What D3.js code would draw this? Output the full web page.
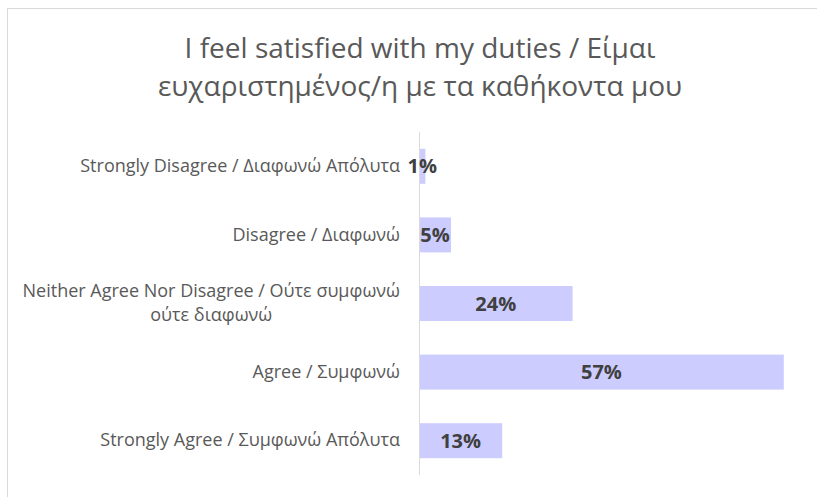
<!DOCTYPE html>
<html lang="en">
<head>
<meta charset="utf-8">
<title>I feel satisfied with my duties</title>
<script src="https://cdn.jsdelivr.net/npm/d3@7/dist/d3.min.js"></script>
<style>
    body { margin: 0; background: #fff; }
    svg { font-family: "Open Sans", "Noto Sans", sans-serif; }
    .axis path { stroke: #d9d9d9; }
    .axis text { fill: #595959; font-size: 18px; font-family: "Open Sans", "Noto Sans", sans-serif; }
</style>
</head>
<body>
<script>
// Data
var categories = [
    "Strongly Disagree / Διαφωνώ Απόλυτα",
    "Disagree / Διαφωνώ",
    "Neither Agree Nor Disagree / Ούτε συμφωνώ ούτε διαφωνώ",
    "Agree / Συμφωνώ",
    "Strongly Agree / Συμφωνώ Απόλυτα"
];
var values = [0.01, 0.05, 0.24, 0.57, 0.13];
var titleLines = ["I feel satisfied with my duties / Είμαι", "ευχαριστημένος/η με τα καθήκοντα μου"];

var outer_width = 817, outer_height = 497;
var margin = { top: 132, right: 14, bottom: 22, left: 419 };
var w = outer_width - margin.left - margin.right;
var h = outer_height - margin.top - margin.bottom;

var root = d3.select("body").append("svg")
    .attr("width", outer_width)
    .attr("height", outer_height);

// chart frame
root.append("rect")
    .attr("x", 7.5).attr("y", 8.5)
    .attr("width", 830).attr("height", 510)
    .attr("fill", "none")
    .attr("stroke", "#d9d9d9");

// title
root.append("text")
    .attr("text-anchor", "middle")
    .attr("fill", "#595959")
    .attr("font-size", "28px")
    .selectAll("tspan")
    .data(titleLines)
    .enter()
    .append("tspan")
    .attr("x", 420)
    .attr("y", function(d, i) { return 58 + i * 38; })
    .text(function(d) { return d; });

var svg = root.append("g")
    .attr("transform", "translate(" + margin.left + "," + margin.top + ")");

var xScale = d3.scaleLinear().domain([0, 0.6]).range([0, w]);
var yScale = d3.scaleBand().domain(categories).range([0, h]).paddingInner(0.49).paddingOuter(0.245);

svg.selectAll("rect.bar")
    .data(values)
    .enter()
    .append("rect")
    .attr("class", "bar")
    .attr("x", 0)
    .attr("y", function(d, i) { return yScale(categories[i]); })
    .attr("width", function(d) { return xScale(d); })
    .attr("height", yScale.bandwidth())
    .attr("fill", "#ccccff");

var yAxis = d3.axisLeft(yScale).tickSize(0).tickPadding(19);
var gy = svg.append("g").attr("class", "axis").call(yAxis);
gy.select(".domain").attr("d", "M0.5,0V" + h);

// wrap long labels, lines centred on each other and right-aligned as a block
gy.selectAll(".tick text").each(function(d) {
    var t = d3.select(this);
    var words = d.split(" ");
    var maxW = 392;
    var lines = [], line = [];
    t.text(null);
    var probe = t.append("tspan");
    words.forEach(function(wd) {
        line.push(wd);
        probe.text(line.join(" "));
        if (probe.node().getComputedTextLength() > maxW && line.length > 1) {
            line.pop();
            lines.push(line.join(" "));
            line = [wd];
        }
    });
    lines.push(line.join(" "));
    probe.remove();
    if (lines.length === 1) {
        t.text(lines[0]);
        return;
    }
    var widths = lines.map(function(l) { probe = t.append("tspan").text(l); var ww = probe.node().getComputedTextLength(); probe.remove(); return ww; });
    var blockW = d3.max(widths);
    var cx = -19 - blockW / 2;
    t.attr("text-anchor", "middle").attr("dy", null);
    lines.forEach(function(l, i) {
        t.append("tspan")
            .attr("x", cx)
            .attr("y", (i - (lines.length - 1) / 2) * 24)
            .attr("dy", "0.32em")
            .text(l);
    });
});

// value labels
svg.selectAll("text.val")
    .data(values)
    .enter()
    .append("text")
    .attr("class", "val")
    .attr("x", function(d) { return xScale(d) / 2; })
    .attr("y", function(d, i) { return yScale(categories[i]) + yScale.bandwidth() / 2; })
    .attr("dy", "0.35em")
    .attr("text-anchor", "middle")
    .attr("font-size", "20px")
    .attr("font-weight", "bold")
    .attr("fill", "#404040")
    .text(function(d) { return d3.format(".0%")(d); });
</script>
</body>
</html>
